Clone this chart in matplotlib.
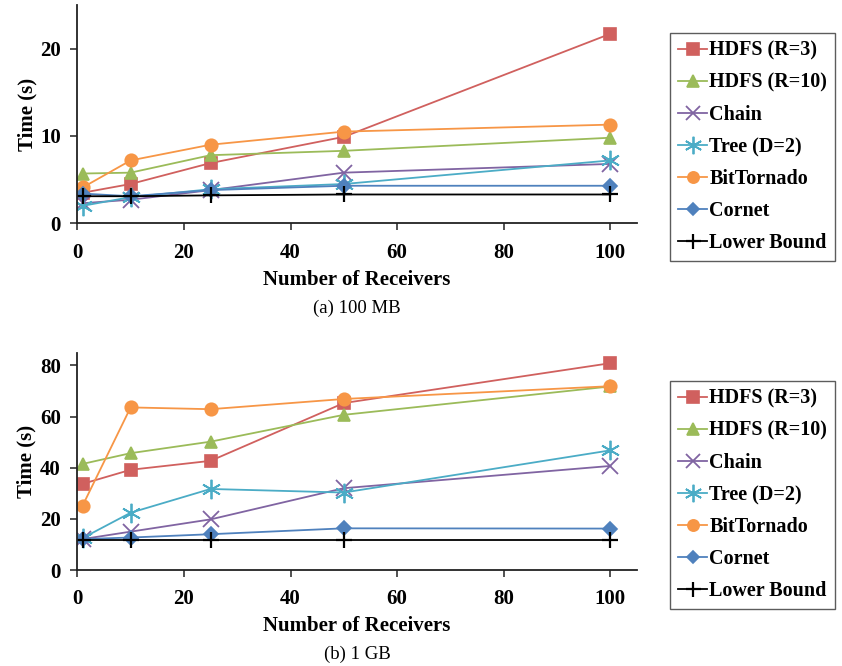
import matplotlib
matplotlib.use('Agg')
import matplotlib.pyplot as plt

plt.rcParams['font.family'] = ['Liberation Serif', 'DejaVu Serif']

receivers = [1, 10, 25, 50, 100]

names = ['HDFS (R=3)', 'HDFS (R=10)', 'Chain', 'Tree (D=2)',
         'BitTornado', 'Cornet', 'Lower Bound']
colors = ['#D0605E', '#9BBB59', '#8064A2', '#4BACC6',
          '#F79646', '#4F81BD', '#000000']
# (6, 2, 0) is a six-armed asterisk, like the spreadsheet "star" marker
markers = ['s', '^', 'x', (6, 2, 0), 'o', 'D', '+']

# (a) 100 MB
hdfs3_100mb = [3.5, 4.5, 6.9, 9.9, 21.7]
hdfs10_100mb = [5.7, 5.8, 7.8, 8.3, 9.8]
chain_100mb = [2.3, 2.7, 3.8, 5.8, 6.8]
tree_100mb = [2.0, 3.0, 3.9, 4.5, 7.2]
bittornado_100mb = [4.1, 7.2, 9.0, 10.5, 11.3]
cornet_100mb = [3.4, 3.1, 3.8, 4.3, 4.3]
lower_100mb = [3.1, 3.1, 3.2, 3.3, 3.3]

# (b) 1 GB
hdfs3_1gb = [33.7, 39.2, 42.7, 65.3, 80.9]
hdfs10_1gb = [41.5, 45.7, 50.2, 60.7, 71.8]
chain_1gb = [12.1, 15.0, 19.8, 32.0, 40.7]
tree_1gb = [12.5, 22.4, 31.7, 30.3, 46.8]
bittornado_1gb = [25.2, 63.6, 62.9, 66.9, 71.9]
cornet_1gb = [12.1, 12.7, 14.0, 16.3, 16.2]
lower_1gb = [11.9, 11.9, 11.9, 11.9, 11.9]

series_100mb = [hdfs3_100mb, hdfs10_100mb, chain_100mb, tree_100mb,
                bittornado_100mb, cornet_100mb, lower_100mb]
series_1gb = [hdfs3_1gb, hdfs10_1gb, chain_1gb, tree_1gb,
              bittornado_1gb, cornet_1gb, lower_1gb]

W, H = 842, 666
fig = plt.figure(figsize=(W / 100, H / 100), dpi=100)


def draw_panel(rect, series, ymax, yticks, caption, legend_top):
    ax = fig.add_axes(rect)
    for vals, name, c, m in zip(series, names, colors, markers):
        size = 9
        mew = 1.2
        if m == 'D':
            size = 7
        if m == 'x':
            size = 11
            mew = 1.3
        if m == (6, 2, 0):
            size = 14
            mew = 1.3
        if m == '+':
            size = 12
            mew = 1.6
        ax.plot(receivers, vals, color=c, marker=m, markersize=size,
                markeredgewidth=mew, linewidth=1.3, label=name)
    ax.set_xlim(0, 105)
    ax.set_ylim(0, ymax)
    ax.set_xticks([0, 20, 40, 60, 80, 100])
    ax.set_yticks(yticks)
    for s in ('top', 'right'):
        ax.spines[s].set_visible(False)
    for s in ('left', 'bottom'):
        ax.spines[s].set_color('#222222')
        ax.spines[s].set_linewidth(1.3)
    ax.tick_params(direction='out', length=5, width=1.1, colors='#222222',
                   labelsize=15, labelcolor='black')
    ax.tick_params(axis='x', pad=9)
    ax.tick_params(axis='y', pad=7)
    for lab in ax.get_xticklabels() + ax.get_yticklabels():
        lab.set_fontweight('bold')
    ax.set_xlabel('Number of Receivers', fontsize=15, fontweight='bold', labelpad=5)
    ax.set_ylabel('Time (s)', fontsize=15, fontweight='bold', labelpad=2)
    ax.text(0.5, -0.39, caption, transform=ax.transAxes, ha='center',
            va='center', fontsize=13.5)
    leg = ax.legend(loc='upper left', bbox_to_anchor=(670 / W, legend_top),
                    bbox_transform=fig.transFigure, frameon=True, fancybox=False,
                    prop={'weight': 'bold', 'size': 14.5}, handlelength=1.45,
                    handletextpad=0.1, labelspacing=0.6, borderpad=0.4,
                    borderaxespad=0, markerscale=0.9)
    leg.get_frame().set_edgecolor('#333333')
    leg.get_frame().set_linewidth(1.0)
    return ax


top_rect = [77.3 / W, (H - 223.3) / H, (637 - 77.3) / W, (223.3 - 5) / H]
bot_rect = [77.3 / W, (H - 570) / H, (637 - 77.3) / W, (570 - 352.7) / H]

draw_panel(top_rect, series_100mb, 25, [0, 10, 20], '(a) 100 MB', (H - 32.7) / H)
draw_panel(bot_rect, series_1gb, 85, [0, 20, 40, 60, 80], '(b) 1 GB', (H - 380.7) / H)

fig.savefig('out.png', dpi=100)
